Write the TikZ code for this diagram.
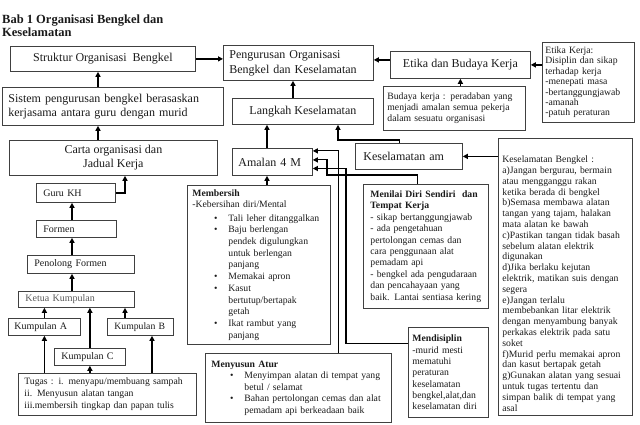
\documentclass[tikz,border=0pt]{standalone}
\usepackage{fontspec}
\setmainfont{Liberation Serif}
\usetikzlibrary{arrows.meta,positioning}
\definecolor{boxcol}{HTML}{404040}
\definecolor{inkcol}{HTML}{1A1A1A}
\newcommand{\bulitem}{\makebox[36pt][r]{\textbullet\hspace{11pt}}}
\newcommand{\bulcont}{\hspace*{36pt}}
\hyphenpenalty=10000
\exhyphenpenalty=10000

\begin{document}
\begin{tikzpicture}[
  x=1pt, y=-1pt,
  >={Triangle[length=5pt,width=5pt]},
  box/.style={draw=boxcol, line width=0.8pt, anchor=north west, text=inkcol, inner sep=0pt},
  bigbox/.style={box, font=\fontsize{12}{14}\selectfont},
  rolebox/.style={box, font=\fontsize{10}{11}\selectfont, align=left, inner xsep=7pt},
  notebox/.style={box, font=\fontsize{9.7}{11}\selectfont, align=left},
  arr/.style={->, line width=1.6pt},
  thinarr/.style={->, line width=1.1pt},
]
\useasboundingbox (0,0) rectangle (640,425);

% Title
\node[anchor=north west, inner sep=0pt, align=left, text=inkcol,
      font=\fontsize{12.5}{12.5}\selectfont\bfseries] (title) at (2,15) {Bab 1 Organisasi Bengkel dan\\Keselamatan};

% Top row
\node[bigbox, minimum width=185pt, minimum height=25pt] (struktur) at (10,46) {Struktur Organisasi\ \ Bengkel};
\node[bigbox, text width=138pt, inner xsep=6pt, minimum height=35pt, align=left,
      font=\fontsize{12}{15}\selectfont] (pengurusan) at (223,45) {Pengurusan Organisasi\\Bengkel dan Keselamatan};
\node[bigbox, minimum width=140pt, minimum height=27pt] (etika) at (390,51) {Etika dan Budaya Kerja};
\node[notebox, text width=86pt, inner xsep=3pt, minimum height=80pt,
      font=\fontsize{9.7}{10.4}\selectfont] (etikakerja) at (542,42) {Etika Kerja:\\Disiplin dan sikap\\terhadap kerja\\-menepati masa\\-bertanggungjawab\\-amanah\\-patuh peraturan};
\node[notebox, text width=134pt, inner xsep=4pt, minimum height=44pt] (budaya) at (383,86) {Budaya kerja : peradaban yang\\menjadi amalan semua pekerja\\dalam sesuatu organisasi};
\node[bigbox, minimum width=141pt, minimum height=26pt] (langkah) at (232,98) {Langkah Keselamatan};

% Left column
\node[bigbox, text width=209pt, inner xsep=6pt, minimum height=38pt, align=left,
      font=\fontsize{12}{13.5}\selectfont] (sistem) at (2,87) {Sistem pengurusan bengkel berasaskan\\kerjasama antara guru dengan murid};
\node[bigbox, minimum width=208pt, minimum height=35pt, align=center] (carta) at (9,140) {Carta organisasi dan\\Jadual Kerja};

% Org chart
\node[rolebox, text width=65pt, minimum height=19pt] (gurukh) at (36,183) {Guru KH};
\node[rolebox, text width=66pt, minimum height=17pt] (formen) at (36,220) {Formen};
\node[rolebox, text width=93pt, minimum height=18pt] (penolong) at (27,255) {Penolong Formen};
\node[rolebox, text width=102pt, minimum height=16pt, text=black!65] (ketua) at (18,291) {Ketua Kumpulan};
\node[rolebox, text width=60pt, inner xsep=6pt, minimum height=17pt] (kumpA) at (8,318) {Kumpulan A};
\node[rolebox, text width=58pt, inner xsep=4pt, minimum height=17pt, font=\fontsize{9.7}{11}\selectfont] (kumpB) at (107,318) {\hspace*{3pt}Kumpulan B};
\node[rolebox, text width=57pt, minimum height=17pt] (kumpC) at (54,348) {Kumpulan C};
\node[notebox, text width=166pt, inner xsep=6pt, minimum height=42pt,
      font=\fontsize{9.7}{12}\selectfont] (tugas) at (18,373) {Tugas : i. menyapu/membuang sampah\\ii. Menyusun alatan tangan\\iii.membersih tingkap dan papan tulis};

% Centre
\node[bigbox, text width=68pt, inner xsep=6pt, minimum height=27pt, align=left] (amalan) at (232,148) {Amalan 4 M};
\node[bigbox, text width=91pt, inner xsep=8pt, minimum height=26pt, align=left] (kesam) at (355,143) {Keselamatan am};
\node[notebox, text width=133pt, inner xsep=5pt, minimum height=159pt,
      font=\fontsize{9.7}{11.7}\selectfont] (membersih) at (187,185) {\textbf{Membersih}\\
-Kebersihan diri/Mental\\[1.5pt]
\bulitem Tali leher ditanggalkan\\
\bulitem Baju berlengan\\
\bulcont pendek digulungkan\\
\bulcont untuk berlengan\\
\bulcont panjang\\
\bulitem Memakai apron\\
\bulitem Kasut\\
\bulcont bertutup/bertapak\\
\bulcont getah\\
\bulitem Ikat rambut yang\\
\bulcont panjang};
\node[notebox, text width=117pt, inner xsep=4pt, minimum height=124pt,
      font=\fontsize{9.7}{11.4}\selectfont] (menilai) at (363,184) {\hspace*{3pt}\textbf{Menilai Diri Sendiri\ \ dan}\\
\hspace*{3pt}\textbf{Tempat Kerja}\\
\hspace*{3pt}- sikap bertanggungjawab\\
\hspace*{3pt}- ada pengetahuan\\
\hspace*{3pt}pertolongan cemas dan\\
\hspace*{3pt}cara penggunaan alat\\
\hspace*{3pt}pemadam api\\
\hspace*{3pt}- bengkel ada pengudaraan\\
\hspace*{3pt}dan pencahayaan yang\\
\hspace*{3pt}baik. Lantai sentiasa kering};
\node[notebox, text width=180pt, inner xsep=3pt, minimum height=69pt,
      font=\fontsize{9.7}{11.5}\selectfont] (menyusun) at (205,353) {\hspace*{3pt}\textbf{Menyusun Atur}\\
\bulitem Menyimpan alatan di tempat yang\\
\bulcont betul / selamat\\
\bulitem Bahan pertolongan cemas dan alat\\
\bulcont pemadam api berkeadaan baik};
\node[notebox, text width=72pt, inner xsep=4pt, minimum height=90pt,
      font=\fontsize{9.7}{11.3}\selectfont] (mendisiplin) at (408,327) {\textbf{Mendisiplin}\\-murid mesti\\mematuhi\\peraturan\\keselamatan\\bengkel,alat,dan\\keselamatan diri};

% Right column
\node[notebox, text width=126pt, inner xsep=4pt, minimum height=277pt,
      font=\fontsize{9.7}{10.8}\selectfont] (kesbengkel) at (498,138) {\rule{0pt}{20pt}Keselamatan Bengkel :\\
a)Jangan bergurau, bermain\\
atau mengganggu rakan\\
ketika berada di bengkel\\
b)Semasa membawa alatan\\
tangan yang tajam, halakan\\
mata alatan ke bawah\\
c)Pastikan tangan tidak basah\\
sebelum alatan elektrik\\
digunakan\\
d)Jika berlaku kejutan\\
elektrik, matikan suis dengan\\
segera\\
e)Jangan terlalu\\
membebankan litar elektrik\\
dengan menyambung banyak\\
perkakas elektrik pada satu\\
soket\\
f)Murid perlu memakai apron\\
dan kasut bertapak getah\\
g)Gunakan alatan yang sesuai\\
untuk tugas tertentu dan\\
simpan balik di tempat yang\\
asal};

% Bend points
\coordinate (colA) at (98,0);
\coordinate (colB) at (72,0);
\coordinate (colC) at (125,0);
\coordinate (colD) at (152,0);
\coordinate (colE) at (267,0);
\coordinate (colF) at (293,0);
\coordinate (etikaout) at ([yshift=5pt]etika.west);
\coordinate (kbend) at (338,140);
\coordinate (nbend) at (327,175);
\coordinate (dbend) at (346,168.5);

% --- arrows ---
\draw[arr] (struktur.east) -- (struktur.east -| pengurusan.west);
\draw[arr] (etikaout) -- (etikaout -| pengurusan.east);
\draw[arr] (etikakerja.west |- etika.east) -- (etika.east);
\draw[arr] (budaya.north -| etika.south) -- (etika.south);
\draw[arr] (colF |- langkah.north) -- (colF |- pengurusan.south);
\draw[arr] (colA |- sistem.north) -- (colA |- struktur.south);
\draw[arr] (colA |- carta.north) -- (colA |- sistem.south);
\draw[arr] (gurukh.east) -| (colC |- carta.south);
\draw[arr] (colB |- formen.north) -- (colB |- gurukh.south);
\draw[arr] (colB |- penolong.north) -- (colB |- formen.south);
\draw[arr] (colB |- ketua.north) -- (colB |- penolong.south);
\draw[arr] (kumpA.north) -- (kumpA.north |- ketua.south);
\draw[arr] (colC |- kumpB.north) -- (colC |- ketua.south);
\draw[arr] (kumpC.north) -- (kumpC.north |- ketua.south);
\draw[arr] (kumpA.south |- tugas.north) -- (kumpA.south);
\draw[arr] (kumpC.south |- tugas.north) -- (kumpC.south);
\draw[arr] (colD |- tugas.north) -- (colD |- kumpB.south);
% centre links
\draw[arr] (colE |- amalan.north) -- (colE |- langkah.south);
\draw[arr] (colE |- membersih.north) -- (colE |- amalan.south);
\draw[thinarr] ([xshift=-9pt]kesam.north) |- (kbend) -- (kbend |- langkah.south);
\draw[arr] (kesbengkel.west |- kesam.east) -- (kesam.east);
\draw[thinarr] ([xshift=40pt]menyusun.north) |- ([yshift=11pt]amalan.east);
\draw[thinarr] ([xshift=-8pt]menilai.north) |- (nbend) |- ([yshift=2pt]amalan.east);
\draw[thinarr] ([yshift=29pt]mendisiplin.west) -| (dbend) -- (dbend -| amalan.east);

\end{tikzpicture}
\end{document}
